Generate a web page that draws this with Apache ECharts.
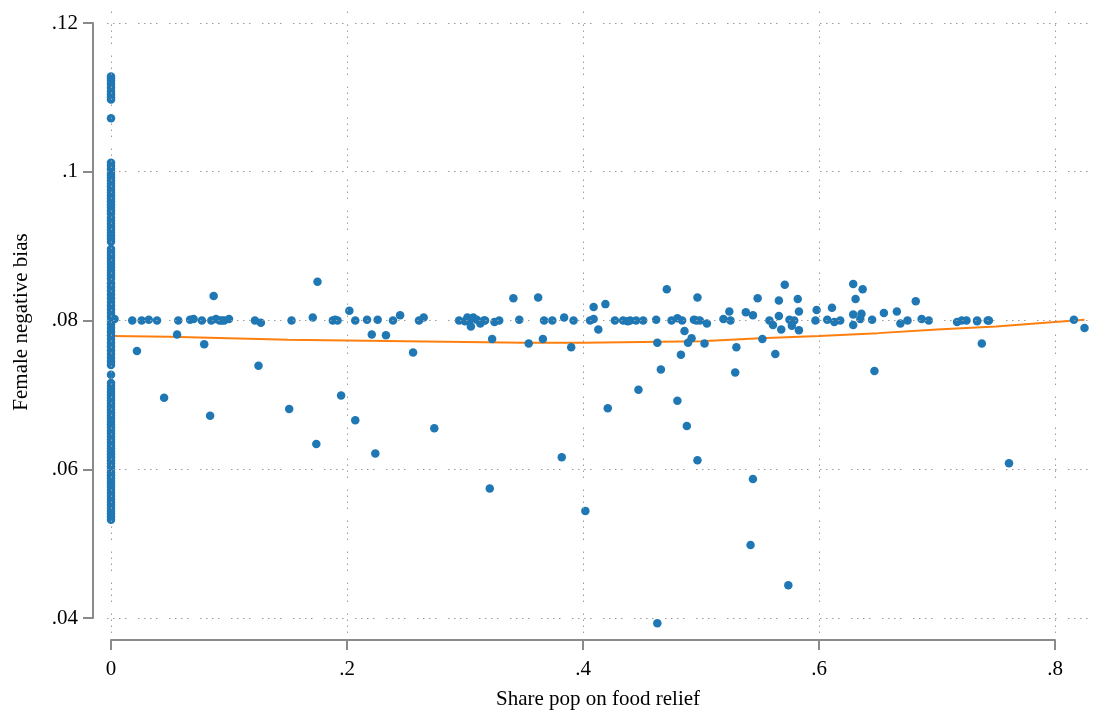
<!DOCTYPE html>
<html lang="en" style="height: 100%">
<head>
<meta charset="utf-8">
<title>Female negative bias vs share pop on food relief</title>
</head>
<body style="height: 100%; margin: 0; background: #fff">
<div id="container" style="width: 1096px; height: 717px"></div>
<script type="text/javascript" src="https://cdn.jsdelivr.net/npm/echarts@6/dist/echarts.min.js"></script>
<script type="text/javascript">
// tick labels / gridlines
const xTicks = [0, 0.2, 0.4, 0.6, 0.8];
const yTicks = [0.04, 0.06, 0.08, 0.1, 0.12];

// districts with no food relief (x = 0)
const zeroBias = [
  0.1128, 0.1125, 0.1122, 0.1118, 0.1113, 0.1108, 0.1104, 0.1100, 0.1097, 0.1072,
  0.1012, 0.1008, 0.1004, 0.1000, 0.0996, 0.0992, 0.0988, 0.0984, 0.0980, 0.0976,
  0.0972, 0.0968, 0.0964, 0.0960, 0.0956, 0.0952, 0.0948, 0.0944, 0.0938, 0.0934,
  0.0930, 0.0926, 0.0922, 0.0918, 0.0914, 0.0910, 0.0906, 0.0896, 0.0892, 0.0888,
  0.0884, 0.0880, 0.0876, 0.0872, 0.0868, 0.0864, 0.0860, 0.0856, 0.0850, 0.0845,
  0.0840, 0.0835, 0.0830, 0.0825, 0.0820, 0.0815, 0.0810, 0.0805, 0.0800, 0.0795,
  0.0790, 0.0785, 0.0780, 0.0775, 0.0770, 0.0765, 0.0760, 0.0755, 0.0750, 0.0745,
  0.0740, 0.0727, 0.0716, 0.0712, 0.0708, 0.0704, 0.0700, 0.0696, 0.0692, 0.0688,
  0.0684, 0.0680, 0.0676, 0.0672, 0.0668, 0.0664, 0.0660, 0.0656, 0.0652, 0.0648,
  0.0644, 0.0640, 0.0636, 0.0632, 0.0628, 0.0624, 0.0620, 0.0616, 0.0612, 0.0608,
  0.0604, 0.0600, 0.0596, 0.0592, 0.0588, 0.0584, 0.0580, 0.0576, 0.0572, 0.0568,
  0.0564, 0.0560, 0.0556, 0.0552, 0.0548, 0.0544, 0.0540, 0.0536, 0.0532
];

// districts with some food relief
const reliefShare = [
  0.003, 0.018, 0.026, 0.032, 0.039, 0.022, 0.045, 0.056, 0.057, 0.067,
  0.070, 0.077, 0.079, 0.084, 0.087, 0.085, 0.089, 0.092, 0.094, 0.096,
  0.100, 0.122, 0.127, 0.125, 0.151, 0.153, 0.171, 0.175, 0.174, 0.188,
  0.190, 0.192, 0.195, 0.202, 0.207, 0.207, 0.221, 0.224, 0.217, 0.226,
  0.239, 0.245, 0.233, 0.256, 0.261, 0.265, 0.274, 0.295, 0.300, 0.302,
  0.304, 0.305, 0.307, 0.310, 0.313, 0.316, 0.317, 0.323, 0.325, 0.329,
  0.341, 0.346, 0.354, 0.362, 0.367, 0.366, 0.374, 0.382, 0.384, 0.390,
  0.392, 0.406, 0.409, 0.409, 0.413, 0.419, 0.421, 0.427, 0.434, 0.438,
  0.440, 0.445, 0.451, 0.447, 0.462, 0.463, 0.466, 0.471, 0.475, 0.480,
  0.484, 0.480, 0.486, 0.483, 0.488, 0.489, 0.492, 0.494, 0.496, 0.499,
  0.497, 0.497, 0.503, 0.505, 0.519, 0.525, 0.524, 0.530, 0.529, 0.538,
  0.321, 0.402, 0.463, 0.544, 0.542, 0.574, 0.544, 0.548, 0.552, 0.558,
  0.561, 0.563, 0.566, 0.566, 0.568, 0.571, 0.575, 0.577, 0.579, 0.582,
  0.583, 0.583, 0.597, 0.598, 0.607, 0.611, 0.613, 0.618, 0.629, 0.631,
  0.637, 0.629, 0.629, 0.635, 0.636, 0.645, 0.647, 0.655, 0.666, 0.669,
  0.675, 0.682, 0.687, 0.693, 0.717, 0.721, 0.725, 0.734, 0.734, 0.738,
  0.743, 0.744, 0.761, 0.816, 0.825
];
const reliefBias = [
  0.0802, 0.0800, 0.0800, 0.0801, 0.0800, 0.0759, 0.0696, 0.0781, 0.0800, 0.0801,
  0.0802, 0.0800, 0.0768, 0.0672, 0.0833, 0.0800, 0.0802, 0.0800, 0.0800, 0.0800,
  0.0802, 0.0800, 0.0797, 0.0739, 0.0681, 0.0800, 0.0804, 0.0852, 0.0634, 0.0800,
  0.0801, 0.0800, 0.0699, 0.0813, 0.0800, 0.0666, 0.0781, 0.0621, 0.0801, 0.0801,
  0.0800, 0.0807, 0.0780, 0.0757, 0.0800, 0.0804, 0.0655, 0.0800, 0.0799, 0.0804,
  0.0800, 0.0792, 0.0804, 0.0801, 0.0796, 0.0800, 0.0800, 0.0775, 0.0798, 0.0800,
  0.0830, 0.0801, 0.0769, 0.0831, 0.0800, 0.0775, 0.0800, 0.0616, 0.0804, 0.0764,
  0.0800, 0.0800, 0.0802, 0.0818, 0.0788, 0.0822, 0.0682, 0.0800, 0.0800, 0.0799,
  0.0800, 0.0800, 0.0800, 0.0707, 0.0801, 0.0770, 0.0734, 0.0842, 0.0800, 0.0803,
  0.0800, 0.0692, 0.0786, 0.0754, 0.0658, 0.0770, 0.0776, 0.0801, 0.0800, 0.0800,
  0.0831, 0.0612, 0.0769, 0.0796, 0.0802, 0.0800, 0.0812, 0.0764, 0.0730, 0.0811,
  0.0574, 0.0544, 0.0393, 0.0587, 0.0498, 0.0444, 0.0807, 0.0830, 0.0775, 0.0800,
  0.0794, 0.0755, 0.0827, 0.0806, 0.0788, 0.0848, 0.0801, 0.0793, 0.0800, 0.0829,
  0.0812, 0.0787, 0.0800, 0.0814, 0.0801, 0.0817, 0.0798, 0.0800, 0.0849, 0.0829,
  0.0842, 0.0808, 0.0794, 0.0802, 0.0809, 0.0801, 0.0732, 0.0810, 0.0812, 0.0796,
  0.0800, 0.0826, 0.0802, 0.0800, 0.0798, 0.0800, 0.0800, 0.0800, 0.0799, 0.0769,
  0.0800, 0.0800, 0.0608, 0.0801, 0.0790
];

// lowess-type fit
const fitX = [0, 0.05, 0.1, 0.15, 0.2, 0.25, 0.3, 0.35, 0.4, 0.45, 0.5, 0.55, 0.6, 0.65, 0.7, 0.75, 0.8, 0.825];
const fitY = [0.0779, 0.0778, 0.0776, 0.0774, 0.0773, 0.0772, 0.0771, 0.0770, 0.0770, 0.0771, 0.0772, 0.0776, 0.0779, 0.0783, 0.0788, 0.0792, 0.0798, 0.0801];

var chart = echarts.init(document.getElementById('container'));

const font = 'Liberation Serif, Times New Roman, serif';
const axisGray = '#8a8a8a';
const dotted = [1.5, 4.5, 1.5, 4.5, 1.5, 4.5, 1.5, 11.5];

function tickLabel(v) {
  if (v === 0) return '0';
  return String(+v.toFixed(2)).replace(/^0\./, '.');
}

const points = zeroBias.map(function (y) { return [0, y]; })
  .concat(reliefShare.map(function (x, i) { return [x, reliefBias[i]]; }));

const gridLines = xTicks.map(function (v) { return { xAxis: v }; })
  .concat(yTicks.map(function (v) { return { yAxis: v }; }));

var option = {
  animation: false,
  backgroundColor: '#fff',
  grid: [
    // plot region (data + gridlines)
    { left: 107, right: 4, top: 7, bottom: 84 },
    // axes region (tick range only)
    { left: 111, right: 41, top: 23, bottom: 99 }
  ],
  xAxis: [
    { gridIndex: 0, type: 'value', min: -0.00339, max: 0.83136, show: false },
    {
      gridIndex: 1, type: 'value', min: 0, max: 0.8, interval: 0.2, offset: 22,
      axisLine: { show: true, onZero: false, lineStyle: { color: axisGray, width: 2 } },
      axisTick: { show: true, length: 10, lineStyle: { color: axisGray, width: 2 } },
      axisLabel: { margin: 19, color: '#000', fontFamily: font, fontSize: 21, formatter: tickLabel },
      splitLine: { show: false }
    }
  ],
  yAxis: [
    { gridIndex: 0, type: 'value', min: 0.03798, max: 0.12215, show: false },
    {
      gridIndex: 1, type: 'value', min: 0.04, max: 0.12, interval: 0.02, offset: 18,
      axisLine: { show: true, onZero: false, lineStyle: { color: axisGray, width: 2 } },
      axisTick: { show: true, length: 10, lineStyle: { color: axisGray, width: 2 } },
      axisLabel: { margin: 15, color: '#000', fontFamily: font, fontSize: 21, formatter: tickLabel },
      splitLine: { show: false }
    }
  ],
  graphic: [
    {
      type: 'text', x: 598, y: 699,
      style: { text: 'Share pop on food relief', fontFamily: font, fontSize: 21, fill: '#000', align: 'center', verticalAlign: 'middle' }
    },
    {
      type: 'text', x: 21, y: 322, rotation: Math.PI / 2,
      style: { text: 'Female negative bias', fontFamily: font, fontSize: 21, fill: '#000', align: 'center', verticalAlign: 'middle' }
    }
  ],
  series: [
    {
      type: 'line', xAxisIndex: 0, yAxisIndex: 0, data: [], z: 1, silent: true,
      markLine: {
        silent: true, symbol: ['none', 'none'], label: { show: false },
        lineStyle: { color: '#9c9c9c', width: 1, type: dotted },
        data: gridLines
      }
    },
    {
      name: 'Fitted', type: 'line', xAxisIndex: 0, yAxisIndex: 0, z: 2,
      showSymbol: false, clip: false,
      lineStyle: { color: '#ff7f0e', width: 2 },
      data: fitX.map(function (x, i) { return [x, fitY[i]]; })
    },
    {
      name: 'Female negative bias', type: 'scatter', xAxisIndex: 0, yAxisIndex: 0, z: 3,
      symbolSize: 8.5, clip: false,
      itemStyle: { color: '#1f77b4', opacity: 1 },
      data: points
    }
  ]
};

chart.setOption(option);
window.addEventListener('resize', chart.resize);
</script>
</body>
</html>
